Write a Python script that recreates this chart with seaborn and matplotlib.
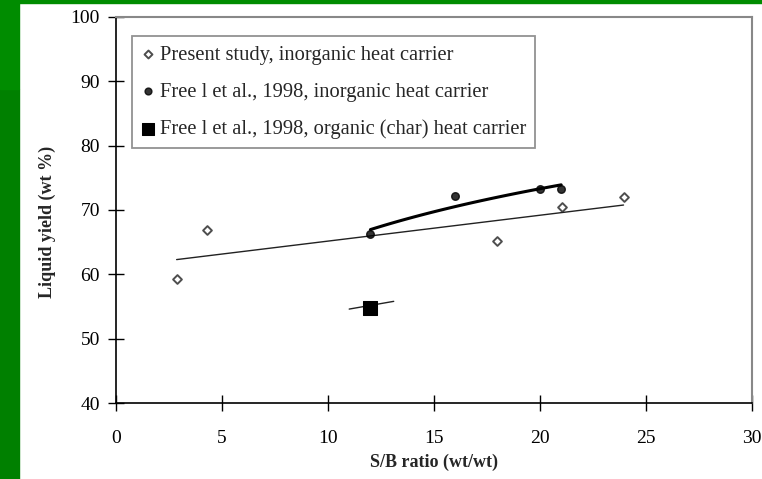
import matplotlib.pyplot as plt
import seaborn as sns
from matplotlib.patches import Rectangle

# datos
present_x = [2.86, 4.28, 17.98, 21.02, 23.94]
present_y = [59.3, 66.9, 65.2, 70.5, 72.0]

free_inorg_x = [12.0, 16.0, 20.0, 21.0]
free_inorg_y = [66.2, 72.1, 73.2, 73.2]

free_org_x = [12.0]
free_org_y = [54.8]
free_org_line_x = [11.0, 13.1]
free_org_line_y = [54.6, 55.8]

x_ticks = [0, 5, 10, 15, 20, 25, 30]
y_ticks = [40, 50, 60, 70, 80, 90, 100]

labels = ['Present study, inorganic heat carrier',
          'Free l et al., 1998, inorganic heat carrier',
          'Free l et al., 1998, organic (char) heat carrier']

sns.set_style('ticks')
plt.rcParams['font.family'] = ['Liberation Serif', 'DejaVu Serif']

fig = plt.figure(figsize=(7.62, 4.79), dpi=100)
ax = fig.add_axes([116 / 762, 76 / 479, 636 / 762, 386 / 479])

# bandas verdes del fondo
fig.patches.append(Rectangle((0, 0), 19 / 762, 390 / 479, transform=fig.transFigure,
                             color='#008000', zorder=0))
fig.patches.append(Rectangle((0, 390 / 479), 19 / 762, 89 / 479, transform=fig.transFigure,
                             color='#008c00', zorder=0))
fig.patches.append(Rectangle((0, 476 / 479), 1, 3 / 479, transform=fig.transFigure,
                             color='#008c00', zorder=0))

# tendencias y puntos
sns.regplot(x=present_x, y=present_y, ax=ax, ci=None, truncate=True,
            marker='D', label=labels[0],
            scatter_kws=dict(s=20, facecolor='white', edgecolor='#222222', linewidths=1.4, zorder=3),
            line_kws=dict(color='#222222', lw=1.0, zorder=2))
sns.regplot(x=free_inorg_x, y=free_inorg_y, ax=ax, ci=None, truncate=True, logx=True,
            marker='o', label=labels[1],
            scatter_kws=dict(s=30, color='black', zorder=3),
            line_kws=dict(color='black', lw=2.2, zorder=2))
ax.plot(free_org_line_x, free_org_line_y, color='#222222', lw=1.0, zorder=2)
sns.scatterplot(x=free_org_x, y=free_org_y, ax=ax, marker='s', s=90, color='black',
                edgecolor='black', label=labels[2], zorder=3)

ax.set_xlim(0, 30)
ax.set_ylim(40, 100)
ax.set_xticks(x_ticks)
ax.set_yticks(y_ticks)
ax.tick_params(axis='both', direction='inout', length=11, width=1.0, labelsize=14,
               colors='black')
ax.tick_params(axis='x', pad=14)
ax.tick_params(axis='y', pad=6)
for s in ['left', 'bottom']:
    ax.spines[s].set_color('black')
    ax.spines[s].set_linewidth(1.2)
for s in ['top', 'right']:
    ax.spines[s].set_visible(True)
    ax.spines[s].set_color('#888888')
    ax.spines[s].set_linewidth(1.5)

ax.set_xlabel('S/B ratio (wt/wt)', fontsize=13, fontweight='bold', labelpad=5)
ax.set_ylabel('Liquid yield (wt %)', fontsize=13, fontweight='bold')
ax.yaxis.set_label_coords(-0.094, 0.469)

leg = ax.legend(loc='upper left', bbox_to_anchor=(0.025, 0.951), borderaxespad=0,
                fontsize=14.8, frameon=True, fancybox=False, handletextpad=0.2,
                handlelength=0.7, labelspacing=0.86, borderpad=0.45, markerscale=0.9)
leg.get_frame().set_edgecolor('#777777')
leg.get_frame().set_linewidth(1.3)

fig.savefig('out.png', dpi=100)
